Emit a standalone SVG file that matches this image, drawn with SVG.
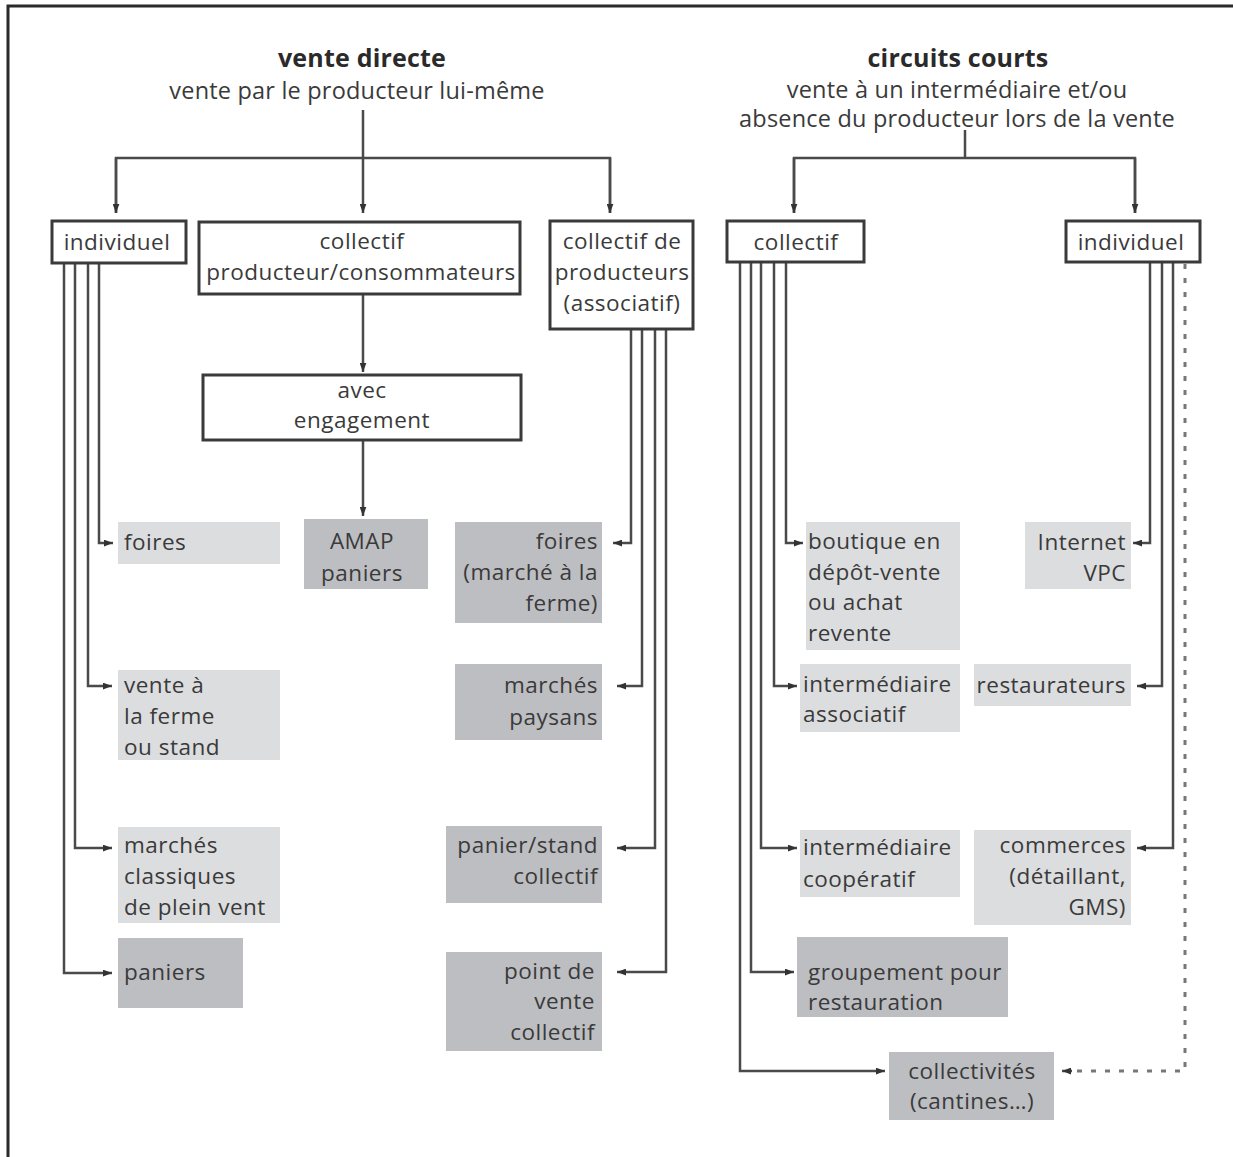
<svg xmlns="http://www.w3.org/2000/svg" width="1233" height="1157" viewBox="0 0 1233 1157">
<defs>
<style>
text{font-family:"Open Sans","Noto Sans","DejaVu Sans",sans-serif;font-size:22.5px;letter-spacing:0.5px;fill:#3a3a3a}
.s{font-size:23.5px;letter-spacing:0.2px}
.h{font-weight:bold;font-size:25px;letter-spacing:0.2px;fill:#2a2a2a}
.c{text-anchor:middle}
.r{text-anchor:end}
.box{fill:#fff;stroke:#3a3a3a;stroke-width:3}
.lt{fill:#dcdddf}
.dk{fill:#bdbec2}
.ln{fill:none;stroke:#4a4a4a;stroke-width:2.5}
.ds{fill:none;stroke:#777;stroke-width:3;stroke-dasharray:5 9}
</style>
<marker id="a" viewBox="0 0 8 6" refX="8" refY="3" markerWidth="9" markerHeight="7" markerUnits="userSpaceOnUse" orient="auto">
<path d="M0,0 L8,3 L0,6 z" fill="#333"/>
</marker>
</defs>
<rect width="1233" height="1157" fill="#fff"/>
<path d="M8,1157 V6 H1233" fill="none" stroke="#2a2a2a" stroke-width="3"/>

<g id="headers">
<text class="h c" x="362" y="67">vente directe</text>
<text class="s c" x="357" y="99">vente par le producteur lui-même</text>
<text class="h c" x="958" y="67">circuits courts</text>
<text class="s c" x="957" y="98">vente à un intermédiaire et/ou</text>
<text class="s c" x="957" y="127">absence du producteur lors de la vente</text>
</g>

<g id="connectors">
<path class="ln" d="M363,110 V213" marker-end="url(#a)"/>
<path class="ln" d="M116,213 V158 H610 V213" />
<path class="ln" d="M116,158 V213" marker-end="url(#a)"/>
<path class="ln" d="M610,158 V213" marker-end="url(#a)"/>
<path class="ln" d="M363,294 V372" marker-end="url(#a)"/>
<path class="ln" d="M363,440 V516" marker-end="url(#a)"/>
<path class="ln" d="M965,130 V158"/>
<path class="ln" d="M794,213 V158 H1135 V213"/>
<path class="ln" d="M794,158 V213" marker-end="url(#a)"/>
<path class="ln" d="M1135,158 V213" marker-end="url(#a)"/>
<path class="ln" d="M64,263 V973 H112" marker-end="url(#a)"/>
<path class="ln" d="M75,263 V848 H112" marker-end="url(#a)"/>
<path class="ln" d="M88,263 V686 H112" marker-end="url(#a)"/>
<path class="ln" d="M99,263 V543 H113" marker-end="url(#a)"/>
<path class="ln" d="M631,329 V543 H613" marker-end="url(#a)"/>
<path class="ln" d="M642,329 V686 H617" marker-end="url(#a)"/>
<path class="ln" d="M655,329 V848 H617" marker-end="url(#a)"/>
<path class="ln" d="M666,329 V972 H617" marker-end="url(#a)"/>
<path class="ln" d="M786,262 V543 H803" marker-end="url(#a)"/>
<path class="ln" d="M774,262 V686 H797" marker-end="url(#a)"/>
<path class="ln" d="M761,262 V848 H797" marker-end="url(#a)"/>
<path class="ln" d="M751,262 V972 H794" marker-end="url(#a)"/>
<path class="ln" d="M740,262 V1071 H885" marker-end="url(#a)"/>
<path class="ln" d="M1150,262 V543 H1133" marker-end="url(#a)"/>
<path class="ln" d="M1162,262 V686 H1137" marker-end="url(#a)"/>
<path class="ln" d="M1173,262 V848 H1137" marker-end="url(#a)"/>
<path class="ds" d="M1185,264 V1071 H1070"/>
<path class="ln" d="M1072,1071 H1062" marker-end="url(#a)"/>
</g>

<g id="n-individuel-vd">
<rect class="box" x="52" y="221" width="134" height="42"/>
<text class="c" x="117" y="250">individuel</text>
</g>
<g id="n-collectif-pc">
<rect class="box" x="199" y="222" width="321" height="72"/>
<text class="c" x="362" y="249">collectif</text>
<text class="c" x="361" y="280">producteur/consommateurs</text>
</g>
<g id="n-collectif-prod">
<rect class="box" x="550" y="221" width="143" height="108"/>
<text class="c" x="622" y="249">collectif de</text>
<text class="c" x="622" y="280">producteurs</text>
<text class="c" x="622" y="311">(associatif)</text>
</g>
<g id="n-engagement">
<rect class="box" x="203" y="375" width="318" height="65"/>
<text class="c" x="362" y="398">avec</text>
<text class="c" x="362" y="428">engagement</text>
</g>
<g id="n-collectif-cc">
<rect class="box" x="727" y="221" width="137" height="41"/>
<text class="c" x="796" y="250">collectif</text>
</g>
<g id="n-individuel-cc">
<rect class="box" x="1066" y="221" width="134" height="41"/>
<text class="c" x="1131" y="250">individuel</text>
</g>

<g id="n-foires">
<rect class="lt" x="118" y="522" width="162" height="42"/>
<text x="124" y="550">foires</text>
</g>
<g id="n-vente-ferme">
<rect class="lt" x="118" y="670" width="162" height="90"/>
<text x="124" y="693">vente à</text>
<text x="124" y="724">la ferme</text>
<text x="124" y="755">ou stand</text>
</g>
<g id="n-marches-classiques">
<rect class="lt" x="118" y="827" width="162" height="96"/>
<text x="124" y="853">marchés</text>
<text x="124" y="884">classiques</text>
<text x="124" y="915">de plein vent</text>
</g>
<g id="n-paniers">
<rect class="dk" x="118" y="938" width="125" height="70"/>
<text x="124" y="980">paniers</text>
</g>
<g id="n-amap">
<rect class="dk" x="304" y="519" width="124" height="70"/>
<text class="c" x="362" y="549">AMAP</text>
<text class="c" x="362" y="581">paniers</text>
</g>
<g id="n-foires-ferme">
<rect class="dk" x="455" y="522" width="147" height="101"/>
<text class="r" x="598" y="549">foires</text>
<text class="r" x="598" y="580">(marché à la</text>
<text class="r" x="598" y="611">ferme)</text>
</g>
<g id="n-marches-paysans">
<rect class="dk" x="455" y="664" width="147" height="76"/>
<text class="r" x="598" y="693">marchés</text>
<text class="r" x="598" y="725">paysans</text>
</g>
<g id="n-panier-stand">
<rect class="dk" x="446" y="826" width="156" height="77"/>
<text class="r" x="598" y="853">panier/stand</text>
<text class="r" x="598" y="884">collectif</text>
</g>
<g id="n-point-vente">
<rect class="dk" x="446" y="952" width="156" height="99"/>
<text class="r" x="595" y="979">point de</text>
<text class="r" x="595" y="1009">vente</text>
<text class="r" x="595" y="1040">collectif</text>
</g>
<g id="n-boutique">
<rect class="lt" x="806" y="522" width="154" height="128"/>
<text x="808" y="549">boutique en</text>
<text x="808" y="580">dépôt-vente</text>
<text x="808" y="610">ou achat</text>
<text x="808" y="641">revente</text>
</g>
<g id="n-inter-asso">
<rect class="lt" x="800" y="664" width="160" height="68"/>
<text x="803" y="692">intermédiaire</text>
<text x="803" y="722">associatif</text>
</g>
<g id="n-inter-coop">
<rect class="lt" x="800" y="830" width="160" height="67"/>
<text x="803" y="855">intermédiaire</text>
<text x="803" y="887">coopératif</text>
</g>
<g id="n-groupement">
<rect class="dk" x="797" y="937" width="211" height="80"/>
<text x="808" y="980">groupement pour</text>
<text x="808" y="1010">restauration</text>
</g>
<g id="n-collectivites">
<rect class="dk" x="889" y="1052" width="165" height="68"/>
<text class="c" x="972" y="1079">collectivités</text>
<text class="c" x="972" y="1109">(cantines…)</text>
</g>
<g id="n-internet">
<rect class="lt" x="1025" y="522" width="106" height="67"/>
<text class="r" x="1126" y="550">Internet</text>
<text class="r" x="1126" y="581">VPC</text>
</g>
<g id="n-restaurateurs">
<rect class="lt" x="974" y="664" width="157" height="42"/>
<text class="r" x="1126" y="693">restaurateurs</text>
</g>
<g id="n-commerces">
<rect class="lt" x="974" y="830" width="157" height="95"/>
<text class="r" x="1126" y="853">commerces</text>
<text class="r" x="1126" y="884">(détaillant,</text>
<text class="r" x="1126" y="915">GMS)</text>
</g>
</svg>
